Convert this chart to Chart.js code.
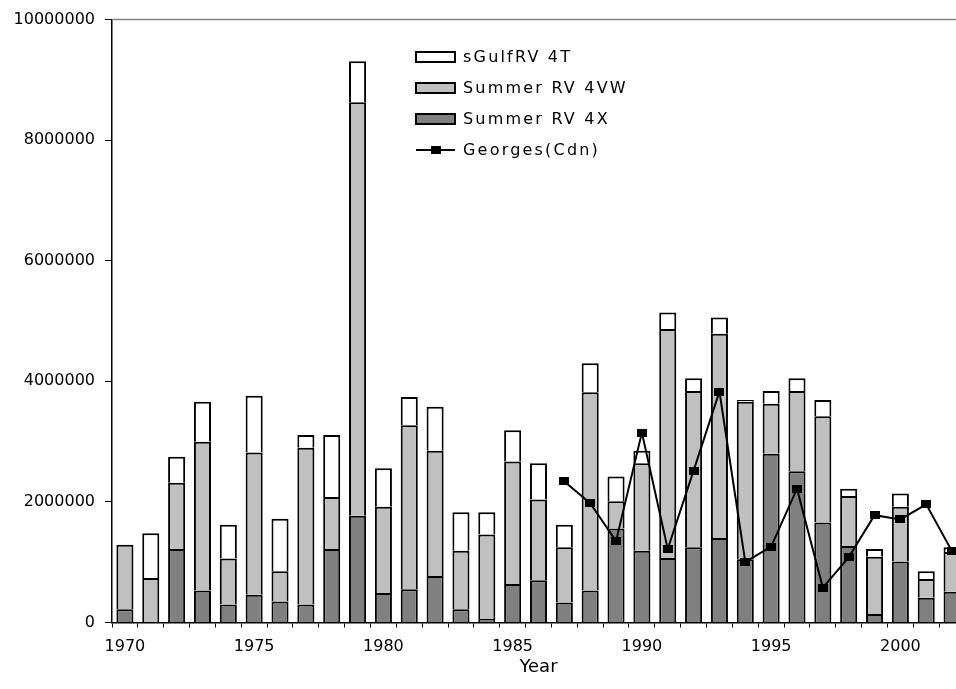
<!DOCTYPE html>
<html>
<head>
<meta charset="utf-8">
<title>Survey numbers by year</title>
<script src="https://cdn.jsdelivr.net/npm/chart.js@4.4.1/dist/chart.umd.min.js"></script>
<style>
  html, body { margin: 0; padding: 0; background: #fff; overflow: hidden; }
  /* plot runs a little past the right edge of the window, like the original */
  .chart-container { position: relative; width: 980px; height: 689px; }
</style>
</head>
<body>
<div class="chart-container"><canvas id="chart"></canvas></div>
<script>
// data
const years = [1970, 1971, 1972, 1973, 1974, 1975, 1976, 1977, 1978, 1979, 1980,
  1981, 1982, 1983, 1984, 1985, 1986, 1987, 1988, 1989, 1990, 1991, 1992,
  1993, 1994, 1995, 1996, 1997, 1998, 1999, 2000, 2001, 2002];

const summer4X = [220000, 0, 1220000, 530000, 300000, 460000, 350000, 300000,
  1220000, 1770000, 490000, 550000, 770000, 220000, 60000, 640000, 700000,
  330000, 530000, 1560000, 1190000, 1070000, 1250000, 1400000, 1050000,
  2800000, 2510000, 1660000, 1270000, 140000, 1010000, 410000, 510000];

const summer4VW = [1070000, 740000, 1100000, 2470000, 760000, 2360000, 500000,
  2600000, 860000, 6860000, 1430000, 2720000, 2080000, 970000, 1400000,
  2030000, 1340000, 920000, 3290000, 450000, 1450000, 3800000, 2590000,
  3390000, 2610000, 830000, 1330000, 1760000, 830000, 950000, 910000, 310000, 660000];

const sGulf4T = [0, 740000, 430000, 660000, 560000, 940000, 870000, 210000,
  1030000, 680000, 640000, 470000, 730000, 640000, 370000, 520000, 600000,
  370000, 480000, 410000, 210000, 270000, 210000, 270000, 30000, 210000,
  210000, 270000, 120000, 130000, 220000, 130000, 80000];

const georgesCdn = [null, null, null, null, null, null, null, null, null, null,
  null, null, null, null, null, null, null,
  2340000, 1980000, 1350000, 3150000, 1220000, 2520000, 3830000, 1000000,
  1260000, 2220000, 580000, 1080000, 1780000, 1710000, 1960000, 1180000];

const yTicks = [0, 2000000, 4000000, 6000000, 8000000, 10000000];

Chart.defaults.font.family = '"DejaVu Sans", sans-serif';
Chart.defaults.font.size = 16;
Chart.defaults.color = '#000';

// small flat black marker, a bit wider than tall
const marker = document.createElement('canvas');
marker.width = 10;
marker.height = 8;
const mctx = marker.getContext('2d');
mctx.fillStyle = '#000';
mctx.fillRect(0, 0, 10, 8);

// grey line along the top of the plot area
const topBorder = {
  id: 'topBorder',
  afterDraw(chart) {
    const { ctx, chartArea } = chart;
    ctx.save();
    ctx.strokeStyle = '#858585';
    ctx.lineWidth = 1.5;
    ctx.beginPath();
    ctx.moveTo(chartArea.left, chartArea.top);
    ctx.lineTo(chartArea.right, chartArea.top);
    ctx.stroke();
    ctx.restore();
  }
};

// legend sits inside the plot, built from the datasets
const insideLegend = {
  id: 'insideLegend',
  afterDraw(chart) {
    const ctx = chart.ctx;
    const order = [2, 1, 0, 3];
    ctx.save();
    ctx.font = '16px "DejaVu Sans"';
    ctx.letterSpacing = '2.2px';
    ctx.textBaseline = 'middle';
    order.forEach((di, row) => {
      const ds = chart.data.datasets[di];
      const y = 57 + row * 31;
      ctx.strokeStyle = '#000';
      ctx.lineWidth = 2;
      if (ds.type === 'line') {
        ctx.beginPath();
        ctx.moveTo(416, y);
        ctx.lineTo(455, y);
        ctx.stroke();
        ctx.fillStyle = '#000';
        ctx.fillRect(431, y - 4, 10, 8);
      } else {
        ctx.fillStyle = ds.backgroundColor;
        ctx.fillRect(416, y - 5, 39, 10);
        ctx.strokeRect(416, y - 5, 39, 10);
      }
      ctx.fillStyle = '#000';
      ctx.fillText(ds.label, 463, y + 1);
    });
    ctx.restore();
  }
};

const barStyle = {
  borderColor: '#000',
  borderWidth: c => (c.raw ? 2 : 0), // empty segments get no outline
  borderSkipped: 'start',
  barPercentage: 0.66,
  categoryPercentage: 1
};

new Chart(document.getElementById('chart'), {
  data: {
    labels: years,
    datasets: [
      { type: 'bar', label: 'Summer RV 4X', data: summer4X, backgroundColor: '#808080', stack: 'rv', ...barStyle },
      { type: 'bar', label: 'Summer RV 4VW', data: summer4VW, backgroundColor: '#c0c0c0', stack: 'rv', ...barStyle },
      { type: 'bar', label: 'sGulfRV 4T', data: sGulf4T, backgroundColor: '#ffffff', stack: 'rv', ...barStyle },
      {
        type: 'line', label: 'Georges(Cdn)', data: georgesCdn, stack: 'georges', order: -1,
        borderColor: '#000', borderWidth: 2, pointStyle: marker, pointRadius: 5,
        spanGaps: false, tension: 0
      }
    ]
  },
  options: {
    responsive: true,
    maintainAspectRatio: false,
    animation: false,
    devicePixelRatio: 1,
    layout: { padding: { top: 18, right: 15, left: 0, bottom: 0 } },
    plugins: {
      legend: { display: false },
      tooltip: { enabled: false }
    },
    scales: {
      x: {
        stacked: true,
        offset: true,
        grid: { offset: true, drawOnChartArea: false, tickLength: 5, color: '#000', lineWidth: 1 },
        border: { color: '#000', width: 1.5 },
        ticks: {
          autoSkip: false,
          maxRotation: 0,
          padding: 10,
          callback: (v, i) => (years[i] % 5 === 0 ? String(years[i]) : '')
        },
        title: { display: true, text: 'Year', font: { size: 18 }, padding: { top: 0, bottom: 11 } },
        afterFit(scale) { scale.height = 66.5; }
      },
      y: {
        stacked: true,
        min: 0,
        max: 10000000,
        grid: { drawOnChartArea: false, tickLength: 7, color: '#000', lineWidth: 1 },
        border: { color: '#000', width: 1.5 },
        afterBuildTicks(scale) { scale.ticks = yTicks.map(v => ({ value: v })); },
        ticks: { padding: 10, callback: v => String(v) },
        afterFit(scale) { scale.width = 112; }
      }
    }
  },
  plugins: [topBorder, insideLegend]
});
</script>
</body>
</html>
